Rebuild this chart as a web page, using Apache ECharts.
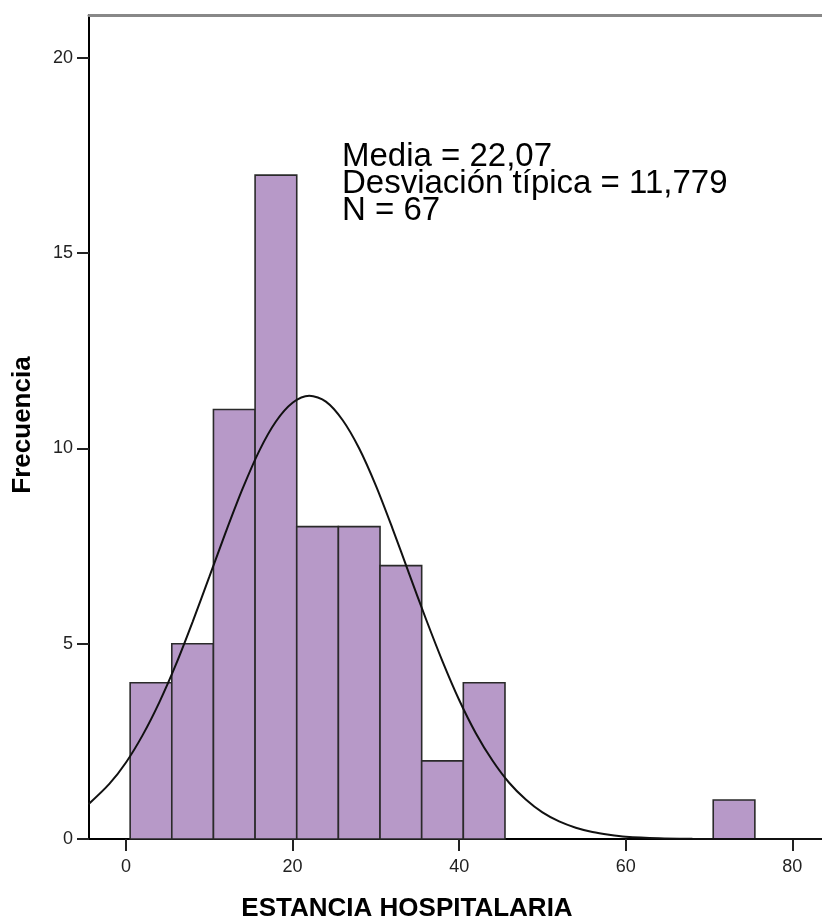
<!DOCTYPE html>
<html>
<head>
<meta charset="utf-8">
<script src="https://cdn.jsdelivr.net/npm/echarts@6/dist/echarts.min.js"></script>
<style>html,body{margin:0;padding:0;background:#fff;}#c{width:822px;height:921px;}</style>
</head>
<body>
<div id="c"></div>
<script>
// Histogram bins (ESTANCIA HOSPITALARIA), bin width 5
var binStart = [0.5, 5.5, 10.5, 15.5, 20.5, 25.5, 30.5, 35.5, 40.5, 70.5];
var binEnd   = [5.5, 10.5, 15.5, 20.5, 25.5, 30.5, 35.5, 40.5, 45.5, 75.5];
var binCount = [4, 5, 11, 17, 8, 8, 7, 2, 4, 1];

// Normal curve (x, frequency)
var curveX = [-4.5, -2, 0, 2, 4, 6, 8, 10, 12, 14, 16, 18, 20, 22, 24, 26, 28, 30, 32, 34, 36, 38, 40, 42, 44, 46, 48, 50, 52, 54, 56, 58, 60, 64, 68, 72, 76, 84];
var curveY = [0.89, 1.41, 1.96, 2.66, 3.50, 4.47, 5.56, 6.71, 7.87, 8.97, 9.94, 10.69, 11.17, 11.35, 11.20, 10.73, 10.00, 9.05, 7.95, 6.79, 5.64, 4.55, 3.56, 2.71, 2.01, 1.44, 1.01, 0.68, 0.45, 0.29, 0.18, 0.11, 0.06, 0.02, 0.006, 0.001, 0, 0];

var xTicks = [0, 20, 40, 60, 80];
var yTicks = [0, 5, 10, 15, 20];

var statsLines = ['Media = 22,07', 'Desviación típica = 11,779', 'N = 67'];
var xTitle = 'ESTANCIA HOSPITALARIA';
var yTitle = 'Frecuencia';

var barData = binStart.map(function (s, i) { return [s, binEnd[i], binCount[i]]; });
var curveData = curveX.map(function (x, i) { return [x, curveY[i]]; });

var chart = echarts.init(document.getElementById('c'), null, {renderer: 'canvas'});
var font = '"Liberation Sans", Arial, sans-serif';

chart.setOption({
  animation: false,
  backgroundColor: '#ffffff',
  grid: {left: 89, right: 0, top: 15, bottom: 82},
  xAxis: [{
    type: 'value', min: -4.44, max: 83.56,
    axisLine: {show: true, onZero: false, lineStyle: {color: '#000', width: 2}},
    axisTick: {show: true, length: 12, customValues: xTicks, lineStyle: {color: '#222', width: 2}},
    axisLabel: {customValues: xTicks, margin: 19, color: '#222', fontSize: 18, fontFamily: font},
    splitLine: {show: false}
  }, {
    type: 'value', position: 'top', min: -4.44, max: 83.56,
    axisLine: {show: true, onZero: false, lineStyle: {color: '#888', width: 3}},
    axisTick: {show: false}, axisLabel: {show: false}, splitLine: {show: false}
  }],
  yAxis: {
    type: 'value', min: 0, max: 21.1,
    axisLine: {show: true, onZero: false, lineStyle: {color: '#000', width: 2}},
    axisTick: {show: true, length: 12, customValues: yTicks, lineStyle: {color: '#222', width: 2}},
    axisLabel: {customValues: yTicks, margin: 16, color: '#222', fontSize: 18, fontFamily: font},
    splitLine: {show: false}
  },
  series: [{
    type: 'custom',
    data: barData,
    renderItem: function (params, api) {
      var p0 = api.coord([api.value(0), api.value(2)]);
      var p1 = api.coord([api.value(1), 0]);
      return {
        type: 'rect',
        shape: {x: p0[0], y: p0[1], width: p1[0] - p0[0], height: p1[1] - p0[1]},
        style: {fill: '#b799c8', stroke: '#2a2a2a', lineWidth: 1.6}
      };
    },
    z: 2
  }, {
    type: 'line',
    data: curveData,
    smooth: 0.3,
    showSymbol: false,
    lineStyle: {color: '#111', width: 2},
    z: 3
  }],
  graphic: [{
    type: 'text', left: 342, top: 140,
    style: {text: statsLines.join('\n'), font: '33px ' + font, fill: '#000', lineHeight: 27}
  }, {
    type: 'text', x: 407, y: 909,
    style: {text: xTitle, font: 'bold 26px ' + font, fill: '#000', align: 'center', verticalAlign: 'middle'}
  }, {
    type: 'text', x: 23, y: 425, rotation: Math.PI / 2,
    style: {text: yTitle, font: 'bold 26px ' + font, fill: '#000', align: 'center', verticalAlign: 'middle'}
  }]
});
</script>
</body>
</html>
